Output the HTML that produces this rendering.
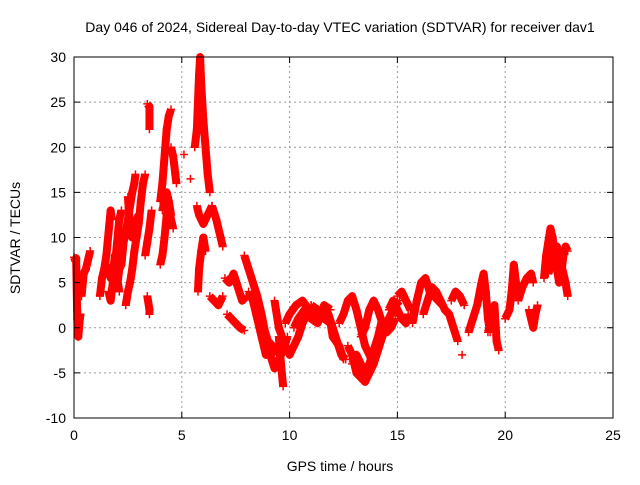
<!DOCTYPE html>
<html><head><meta charset="utf-8"><style>
body{margin:0;background:#fff}
svg text{font-family:"Liberation Sans",sans-serif;font-size:14px;fill:#000}
</style></head><body>
<svg id="chart" width="640" height="480" xmlns="http://www.w3.org/2000/svg">
<rect width="640" height="480" fill="#fff"/>
<text x="340" y="32" text-anchor="middle">Day 046 of 2024, Sidereal Day-to-day VTEC variation (SDTVAR) for receiver dav1</text>
<text x="340" y="471" text-anchor="middle">GPS time / hours</text>
<text transform="translate(20,238) rotate(-90)" text-anchor="middle">SDTVAR / TECUs</text>
<g id="grid"></g><g id="marks"></g>
<rect x="74" y="57" width="539" height="361" fill="none" stroke="#000" stroke-width="1"/>
<g id="ticks"></g>
</svg>
<script>
const xTicks=[0,5,10,15,20,25];
const yTicks=[-10,-5,0,5,10,15,20,25,30];
const traces=[
[[0,7.8],[0.05,7.5],[0.1,7.7],[0.15,1],[0.2,-1],[0.25,0.5],[0.3,1.5]],
[[0.35,3.5],[0.45,6],[0.55,6.5],[0.65,7.5],[0.75,8.5]],
[[1.2,3.5],[1.3,5.5],[1.4,6.5],[1.5,8],[1.6,10.5],[1.7,13],[1.75,12]],
[[1.6,4],[1.7,3],[1.8,5],[1.9,7],[2.0,9.5],[2.1,12],[2.2,13]],
[[1.6,7],[1.7,5.5],[1.8,6],[1.9,8],[2.0,5.5],[2.1,4]],
[[2.0,4.5],[2.1,6.5],[2.2,7],[2.3,9.5],[2.4,10.5],[2.5,12],[2.6,13.5],[2.7,15],[2.8,16],[2.85,17]],
[[2.4,2.5],[2.5,4],[2.6,5],[2.7,6.5],[2.8,8.5],[2.9,10],[3.0,11.5],[3.1,14],[3.2,16],[3.3,17]],
[[2.5,14.5],[2.6,11],[2.7,10],[2.8,10.5],[2.9,12],[3.0,12.5]],
[[3.3,8],[3.4,9.5],[3.5,11],[3.6,13]],
[[3.4,3.5],[3.5,2],[3.5,1.5]],
[[3.4,24.8],[3.5,24.5],[3.5,22]],
[[4.0,7],[4.1,8],[4.2,10],[4.3,12.5],[4.4,13.5],[4.5,12],[4.6,11]],
[[4.0,14],[4.1,16],[4.2,19],[4.3,22],[4.4,23.5],[4.5,24.2]],
[[4.1,13],[4.2,14],[4.3,15],[4.4,14],[4.5,12.5]],
[[4.5,20],[4.6,19],[4.7,17],[4.75,16]],
[[5.1,19.2]],[[5.4,16.5]],
[[5.7,13.5],[5.8,12.5],[5.9,12],[6.0,11.5],[6.1,12],[6.2,12.5],[6.4,13.5]],
[[5.6,20],[5.7,22],[5.75,25],[5.8,28],[5.85,30],[5.9,27],[6.0,23],[6.1,20],[6.2,17],[6.3,15]],
[[5.75,4],[5.8,6.5],[5.9,8.5],[6.0,10],[6.1,8.5]],
[[6.4,13.5],[6.6,12],[6.8,10],[6.9,9]],
[[6.3,3.5],[6.5,3],[6.7,2.5],[6.9,3.5]],
[[7.0,5.5],[7.2,5],[7.4,6],[7.6,4.5],[7.8,3],[8.0,3.5]],
[[7.1,1.5],[7.3,1],[7.5,0.5],[7.7,0],[7.9,-0.3]],
[[7.9,8],[8.1,6.5],[8.3,5],[8.5,3.5],[8.7,1.5],[8.9,-1],[9.1,-3],[9.3,-4.5],[9.5,-3.5],[9.7,-2.5],[9.9,-1]],
[[8.1,4],[8.3,3],[8.5,1],[8.7,-1],[8.9,-3],[9.1,-2]],
[[8.6,2],[8.8,0],[9.0,-1.5],[9.2,-2],[9.4,-3]],
[[9.5,-1],[9.6,-4],[9.7,-6.5]],
[[9.3,3],[9.5,0],[9.8,-2],[10.0,-3],[10.2,-2],[10.4,-1],[10.6,0.5],[10.8,1.5],[11.0,2.5]],
[[9.8,0.5],[10.0,1.5],[10.3,2.5],[10.6,3],[10.9,2],[11.2,1.5],[11.5,2],[11.8,1.5],[12.0,0],[12.2,-1.5],[12.4,-3],[12.6,-3.5]],
[[10.2,0],[10.4,1],[10.7,2],[11.0,1],[11.3,0.5],[11.6,2.5],[11.9,2]],
[[11.0,2.5],[11.3,2],[11.6,1],[11.9,0.5],[12.0,-1],[12.3,-2],[12.5,-3.5]],
[[12.3,0.5],[12.5,1.5],[12.7,3],[12.9,3.5],[13.1,2],[13.3,0],[13.5,-2],[13.7,-3],[13.9,-4]],
[[12.7,-2],[12.9,-3],[13.1,-5],[13.3,-5.5],[13.5,-6],[13.7,-5],[13.9,-4],[14.1,-2.5],[14.3,-1],[14.5,0.5],[14.7,1.5],[14.9,2.5],[15.1,3]],
[[12.9,-4],[13.1,-3],[13.3,-4],[13.5,-5],[13.7,-4],[13.9,-2.5],[14.1,-1],[14.3,1]],
[[13.3,-1],[13.5,0],[13.7,2],[13.9,3],[14.1,2],[14.3,0.5],[14.5,-0.5],[14.7,0],[14.9,1]],
[[14.6,2],[14.8,3],[15.0,2],[15.2,1],[15.4,0.5],[15.5,1.5]],
[[15.0,3.5],[15.2,4],[15.4,3],[15.6,2]],
[[15.7,0.5],[15.9,3],[16.1,5],[16.3,5.5],[16.5,4],[16.7,3.5],[16.9,3],[17.1,2.5]],
[[16.2,1.5],[16.4,3],[16.6,4.5],[16.8,4],[17.0,3],[17.2,2],[17.4,1.5],[17.6,0],[17.8,-1.5]],
[[17.5,3],[17.7,4],[17.9,3.5],[18.1,2.5]],
[[18.0,-3]],
[[18.3,-0.5],[18.5,1],[18.7,2.5],[18.9,5],[19.0,6],[19.1,4],[19.2,1],[19.3,-0.5]],
[[19.2,-0.5],[19.4,1],[19.5,2.5],[19.6,-1.5],[19.7,-2.5]],
[[20.0,1],[20.2,2],[20.3,4],[20.4,7],[20.5,5],[20.6,3.5]],
[[20.6,3],[20.8,4.5],[21.0,5.5],[21.2,6],[21.3,5]],
[[21.1,2],[21.2,1],[21.3,0],[21.4,1.5],[21.5,2.5]],
[[21.8,5.5],[21.9,8],[22.0,9.5],[22.1,11],[22.2,10],[22.3,8],[22.4,6.5],[22.5,5],[22.6,6],[22.7,8],[22.8,9],[22.9,8.5]],
[[22.0,6],[22.2,7.5],[22.4,9],[22.6,7],[22.8,5],[22.9,3.5]]
];
const X0=74,X1=613,Y0=418,Y1=57;
const xs=h=>X0+(h-0)/(25-0)*(X1-X0);
const ys=v=>Y0-(v+10)/(40)*(Y0-Y1);
const NS='http://www.w3.org/2000/svg';
const grid=document.getElementById('grid'),ticks=document.getElementById('ticks'),marks=document.getElementById('marks');
function mk(t,a,p){const e=document.createElementNS(NS,t);for(const k in a)e.setAttribute(k,a[k]);p.appendChild(e);return e;}
xTicks.forEach(t=>{const x=xs(t);
 if(t>0&&t<25){const g=mk('line',{x1:x,x2:x,y1:Y0,y2:Y1,stroke:'#999','stroke-dasharray':'2,3'},grid);
 
 }
 const tk=mk('path',{d:`M${x},${Y0}v-6M${x},${Y1}v6`,stroke:'#000'},ticks);
 
 
 const l=mk('text',{x:x,y:Y0+22,'text-anchor':'middle'},ticks);l.textContent=t;
 
 });
yTicks.forEach(t=>{const y=ys(t);
 if(t>-10&&t<30){const g=mk('line',{x1:X0,x2:X1,y1:y,y2:y,stroke:'#999','stroke-dasharray':'2,3'},grid);
 
 }
 const tk=mk('path',{d:`M${X0},${y}h6M${X1},${y}h-6`,stroke:'#000'},ticks);
 
 
 const l=mk('text',{x:X0-8,y:y+5,'text-anchor':'end'},ticks);l.textContent=t;
 
 });
traces.forEach(tr=>{
 if(tr.length>1){const pl=mk('polyline',{points:tr.map(p=>xs(p[0])+','+ys(p[1])).join(' '),fill:'none',stroke:'#f00','stroke-width':8,'stroke-linejoin':'round'},marks);
 
 }
 tr.forEach(p=>{const x=xs(p[0]),y=ys(p[1]);
  const m=mk('path',{d:`M${x-4},${y}h8M${x},${y-4}v8`,stroke:'#f00','stroke-width':1.5},marks);
  
  });
});
</script>
</body></html>
